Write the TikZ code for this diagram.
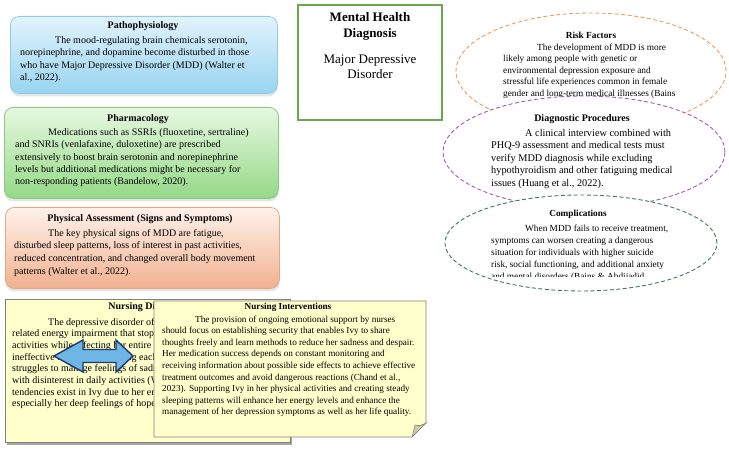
\documentclass[tikz,border=0pt]{standalone}
\usepackage{fontspec}
\setmainfont{Liberation Serif}
\usetikzlibrary{shapes.geometric,shadows}

\definecolor{pathotop}{HTML}{E2F3FC}
\definecolor{pathobot}{HTML}{98D4F0}
\definecolor{pathoedge}{HTML}{8DCBE9}
\definecolor{pharmtop}{HTML}{E6F8E1}
\definecolor{pharmbot}{HTML}{95D987}
\definecolor{pharmedge}{HTML}{8CC97C}
\definecolor{phystop}{HTML}{FFF2EA}
\definecolor{physbot}{HTML}{F1B190}
\definecolor{physedge}{HTML}{E6A585}
\definecolor{mhgreen}{HTML}{6AA84F}
\definecolor{riskorange}{HTML}{EE9B5C}
\definecolor{diagpurple}{HTML}{A35BB0}
\definecolor{compgreen}{HTML}{3E7B55}
\definecolor{notefill}{HTML}{FFFFCC}
\definecolor{foldfill}{HTML}{CDCDA3}
\definecolor{arrowfill}{HTML}{6DB6E6}
\definecolor{arrowedge}{HTML}{22386A}

\begin{document}
\begin{tikzpicture}[x=1pt,y=-1pt]
\tikzstyle{card}=[draw, rounded corners=9pt, line width=0.8pt, anchor=north west, drop shadow={opacity=0.2, shadow xshift=0pt, shadow yshift=-3pt}]
\tikzstyle{head}=[inner sep=0pt, font=\bfseries\fontsize{10}{12}\selectfont]
\tikzstyle{body}=[inner sep=0pt, anchor=north west, align=left, font=\fontsize{10}{12.3}\selectfont]
\tikzstyle{oval}=[ellipse, draw, fill=white, line width=0.9pt, dash pattern=on 4pt off 2.5pt, inner sep=0pt]
\tikzstyle{note}=[draw=gray, fill=notefill, line width=0.6pt]
\useasboundingbox (0,0) rectangle (729,462);
\fill[white] (0,0) rectangle (729,462);

% left column
\node[card, draw=pathoedge, top color=pathotop, bottom color=pathobot, minimum width=267, minimum height=77] (patho) at (10,16) {};
\node[head] (pathoh) at (143,26) {Pathophysiology};
\node[body] (pathob) at (20,36.5) {\hspace*{35pt}The mood-regulating brain chemicals serotonin,\\
norepinephrine, and dopamine become disturbed in those\\
who have Major Depressive Disorder (MDD) (Walter et\\
al., 2022).};

\node[card, draw=pharmedge, top color=pharmtop, bottom color=pharmbot, minimum width=274, minimum height=91] (pharm) at (4,107) {};
\node[head] (pharmh) at (138,119) {Pharmacology};
\node[body, font=\fontsize{10}{12.2}\selectfont] (pharmb) at (15,128.5) {\hspace*{33pt}Medications such as SSRIs (fluoxetine, sertraline)\\
and SNRIs (venlafaxine, duloxetine) are prescribed\\
extensively to boost brain serotonin and norepinephrine\\
levels but additional medications might be necessary for\\
non-responding patients (Bandelow, 2020).};

\node[card, draw=physedge, top color=phystop, bottom color=physbot, minimum width=274, minimum height=81] (phys) at (5,207) {};
\node[head] (physh) at (140,219) {Physical Assessment (Signs and Symptoms)};
\node[body, font=\fontsize{10}{12.7}\selectfont] (physb) at (14,229) {\hspace*{34pt}The key physical signs of MDD are fatigue,\\
disturbed sleep patterns, loss of interest in past activities,\\
reduced concentration, and changed overall body movement\\
patterns (Walter et al., 2022).};

% centre box
\draw[mhgreen, line width=2pt] (298,5) rectangle (442,120);
\node[align=center, font=\bfseries\fontsize{13}{16}\selectfont] (mhd) at (370,26) {Mental Health\\Diagnosis};
\node[align=center, font=\fontsize{13}{14.5}\selectfont] (mdd) at (370,67) {Major Depressive\\Disorder};

% right column
\node[oval, draw=riskorange, minimum width=270, minimum height=116] (risk) at (591,71) {};
\node[head, font=\bfseries\fontsize{9.3}{11}\selectfont] (riskh) at (591,35) {Risk Factors};
\node[body, font=\fontsize{9.3}{11.6}\selectfont] (riskb) at (503,43.3) {\hspace*{34pt}The development of MDD is more\\
likely among people with genetic or\\
environmental depression exposure and\\
stressful life experiences common in female\\
gender and long-term medical illnesses (Bains};

\node[oval, draw=diagpurple, minimum width=282, minimum height=112] (diag) at (584,152) {};
\node[head] (diagh) at (582,119) {Diagnostic Procedures};
\node[body, font=\fontsize{10.3}{12.5}\selectfont] (diagb) at (491,129) {\hspace*{34pt}A clinical interview combined with\\
PHQ-9 assessment and medical tests must\\
verify MDD diagnosis while excluding\\
hypothyroidism and other fatiguing medical\\
issues (Huang et al., 2022).};

\node[oval, draw=compgreen, minimum width=272, minimum height=96] (comp) at (581,243) {};
\node[head, font=\bfseries\fontsize{9.3}{11}\selectfont] (comph) at (578,214) {Complications};
\begin{scope}
\clip (440,200) rectangle (729,277);
\node[body, font=\fontsize{9.3}{12}\selectfont] (compb) at (491,224.3) {\hspace*{34pt}When MDD fails to receive treatment,\\
symptoms can worsen creating a dangerous\\
situation for individuals with higher suicide\\
risk, social functioning, and additional anxiety\\
and mental disorders (Bains \& Abdijadid,};
\end{scope}

% nursing notes
\fill[gray!70] (7,302) rectangle (292,445);
\node[note, minimum width=285, minimum height=143, anchor=north west] (nd) at (5,299) {};
\node[head] (ndh) at (147.5,307) {Nursing Diagnosis};
\node[body, font=\fontsize{10}{11.64}\selectfont] (ndb) at (12,318) {\hspace*{36pt}The depressive disorder of Ivy\\
related energy impairment that stops her\\
activities while affecting her entire life\\
ineffective coping while facing each day\\
struggles to manage feelings of sadness\\
with disinterest in daily activities (Walter\\
tendencies exist in Ivy due to her emotional\\
especially her deep feelings of hopelessness.};

\draw[fill=arrowfill, draw=arrowedge, line width=1.4pt, line join=miter]
  (54,356) -- (83,340) -- (83,349.5) -- (116,349.5) -- (116,340) -- (133,356)
  -- (116,372) -- (116,362.5) -- (83,362.5) -- (83,372) -- cycle;

\draw[note] (154,301) -- (426,301) -- (426,423) -- (412,437) -- (154,437) -- cycle;
\draw[draw=gray, fill=foldfill, line width=0.6pt] (412,437) .. controls (414,431) .. (415,425)
  .. controls (420,426) .. (426,423) -- cycle;
\node[head, font=\bfseries\fontsize{9.2}{11}\selectfont] (nih) at (288,307) {Nursing Interventions};
\node[body, font=\fontsize{9.2}{11.55}\selectfont] (nib) at (162,315.6) {\hspace*{33pt}The provision of ongoing emotional support by nurses\\
should focus on establishing security that enables Ivy to share\\
thoughts freely and learn methods to reduce her sadness and despair.\\
Her medication success depends on constant monitoring and\\
receiving information about possible side effects to achieve effective\\
treatment outcomes and avoid dangerous reactions (Chand et al.,\\
2023). Supporting Ivy in her physical activities and creating steady\\
sleeping patterns will enhance her energy levels and enhance the\\
management of her depression symptoms as well as her life quality.};
\end{tikzpicture}
\end{document}
